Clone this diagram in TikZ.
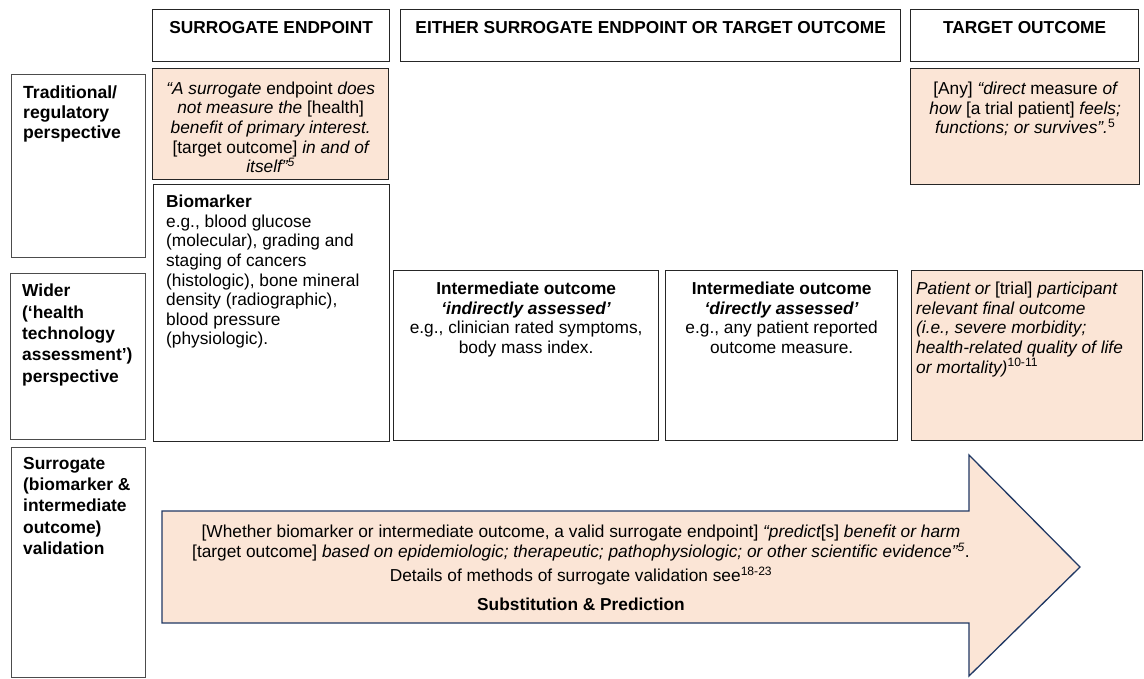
\documentclass[tikz,border=0pt]{standalone}
\usepackage{fontspec}
\setmainfont{Liberation Sans}
\definecolor{peach}{HTML}{FBE5D6}
\definecolor{navy}{HTML}{203864}
\definecolor{edge}{HTML}{262626}
\newcommand\fs{\fontsize{17.3}{19.6}\selectfont}
\newcommand\fsl{\fontsize{17.4}{21.3}\selectfont}
\newcommand\fsa{\fontsize{17.3}{20}\selectfont}
\begin{document}
\begin{tikzpicture}[x=1pt,y=-1pt,
  box/.style={draw=edge, line width=1.3pt, inner sep=0pt, anchor=north west},
  sidebox/.style={draw=black!70, line width=1.1pt, inner sep=0pt, anchor=north west},
  peachbox/.style={box, fill=peach},
  txt/.style={inner sep=0pt, font=\fs},
  lbl/.style={inner sep=0pt, font=\fsl\bfseries, align=left, anchor=north west},
]
\useasboundingbox (0,0) rectangle (1144,678);

% header boxes
\node[box, minimum width=237pt, minimum height=52pt] (hse) at (152,9) {};
\node[box, minimum width=500pt, minimum height=52pt] (heither) at (400,9) {};
\node[box, minimum width=228pt, minimum height=52pt] (htarget) at (910,9) {};
\node[txt, anchor=north, font=\fs\bfseries] at ([yshift=-12pt]hse.north) {SURROGATE ENDPOINT};
\node[txt, anchor=north, font=\fs\bfseries] at ([yshift=-12pt]heither.north) {EITHER SURROGATE ENDPOINT OR TARGET OUTCOME};
\node[txt, anchor=north, font=\fs\bfseries] at ([yshift=-12pt]htarget.north) {TARGET OUTCOME};

% left column
\node[sidebox, minimum width=134pt, minimum height=183pt] (trad) at (11,74) {};
\node[sidebox, minimum width=135pt, minimum height=166pt] (wider) at (10,273) {};
\node[sidebox, minimum width=134pt, minimum height=230pt] (surr) at (11,447) {};
\node[lbl, font=\fontsize{17.6}{19.6}\selectfont\bfseries] at ([shift={(12,12)}]trad.north west) {Traditional/\\regulatory\\perspective};
\node[lbl] at ([shift={(12,11)}]wider.north west) {Wider\\(‘health\\technology\\assessment’)\\perspective};
\node[lbl] at ([shift={(12,10)}]surr.north west) {Surrogate\\(biomarker \&\\intermediate\\outcome)\\validation};

% surrogate column
\node[peachbox, minimum width=236pt, minimum height=111pt] (q1) at (152,68) {};
\node[txt, anchor=north, align=center] at ([yshift=-13.5pt]q1.north)
  {\itshape “A surrogate \upshape endpoint \itshape does\\
   \itshape not measure the \upshape[health]\\
   \itshape benefit of primary interest.\\
   \upshape{}[target outcome] \itshape in and of\\
   \itshape itself”\textsuperscript{5}};
\node[box, minimum width=236pt, minimum height=257pt] (bio) at (153,184) {};
\node[txt, anchor=north west, align=left] at ([shift={(13,11)}]bio.north west)
  {\textbf{Biomarker}\\e.g., blood glucose\\(molecular), grading and\\staging of cancers\\(histologic), bone mineral\\density (radiographic),\\blood pressure\\(physiologic).};

% target column
\node[peachbox, minimum width=229pt, minimum height=116pt] (q2) at (910,68) {};
\node[txt, anchor=north, align=center] at ([yshift=-14pt]q2.north)
  {{}[Any] \itshape “direct \upshape measure \itshape of\\
   \itshape how \upshape[a trial patient] \itshape feels;\\
   \itshape functions; or survives”.\upshape\textsuperscript{5}};
\node[peachbox, minimum width=231pt, minimum height=170pt] (pat) at (911,270) {};
\node[txt, anchor=north west, align=left] at ([shift={(5,12)}]pat.north west)
  {\itshape Patient or \upshape[trial] \itshape participant\\
   \itshape relevant final outcome\\
   \itshape (i.e., severe morbidity;\\
   \itshape health-related quality of life\\
   \itshape or mortality)\upshape\textsuperscript{10-11}};

% intermediate boxes
\node[box, minimum width=265pt, minimum height=170pt] (ind) at (393,270) {};
\node[txt, anchor=north, align=center] at ([yshift=-12pt]ind.north)
  {\textbf{Intermediate outcome}\\\textbf{\itshape ‘indirectly assessed’}\\e.g., clinician rated symptoms,\\body mass index.};
\node[box, minimum width=232pt, minimum height=170pt] (dir) at (665,270) {};
\node[txt, anchor=north, align=center] at ([yshift=-12pt]dir.north)
  {\textbf{Intermediate outcome}\\\textbf{\itshape ‘directly assessed’}\\e.g., any patient reported\\outcome measure.};

% arrow
\draw[draw=navy, line width=1.3pt, fill=peach, line join=miter]
  (162,511) -- (969,511) -- (969,455) -- (1080,567) -- (969,676) -- (969,623) -- (162,623) -- cycle;
\node[inner sep=0pt, font=\fsa, align=center] (atext) at (581,568)
  {{}[Whether biomarker or intermediate outcome, a valid surrogate endpoint] \itshape “predict\upshape[s] \itshape benefit or harm\\
   {}[target outcome] \itshape based on epidemiologic; therapeutic; pathophysiologic; or other scientific evidence”\textsuperscript{5}\upshape.\\[4pt]
   Details of methods of surrogate validation see\textsuperscript{18-23}\\[9pt]
   \textbf{Substitution \& Prediction}};
\end{tikzpicture}
\end{document}
